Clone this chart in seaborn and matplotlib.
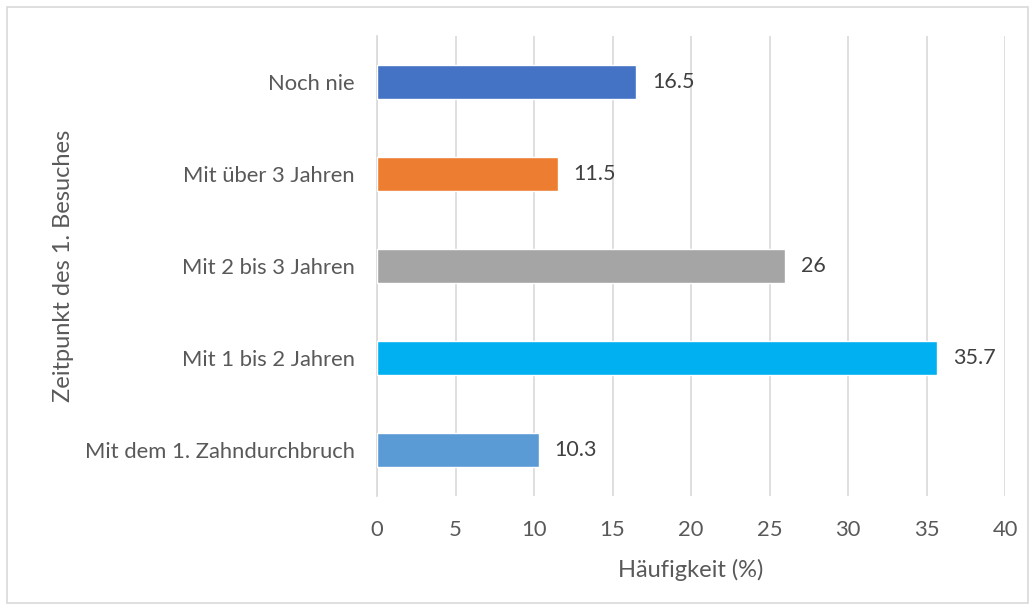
import matplotlib
matplotlib.use("Agg")
import matplotlib.pyplot as plt
import seaborn as sns
import pandas as pd
from matplotlib.patches import Rectangle

categories = ["Noch nie", "Mit über 3 Jahren", "Mit 2 bis 3 Jahren",
              "Mit 1 bis 2 Jahren", "Mit dem 1. Zahndurchbruch"]
values = [16.5, 11.5, 26, 35.7, 10.3]
value_labels = ["16.5", "11.5", "26", "35.7", "10.3"]
colors = ["#4472C4", "#ED7D31", "#A5A5A5", "#00B0F0", "#5B9BD5"]
xticks = [0, 5, 10, 15, 20, 25, 30, 35, 40]

sns.set_theme(style="white")
plt.rcParams['font.family'] = ['Lato', 'DejaVu Sans']

df = pd.DataFrame({"cat": categories, "val": values})

fig = plt.figure(figsize=(10.35, 6.10), dpi=100)
ax = fig.add_axes([377/1035, 1-496/610, 628/1035, 460/610])

sns.barplot(data=df, y="cat", x="val", hue="cat", palette=colors,
            order=categories, hue_order=categories, legend=False,
            width=0.36, saturation=1, ax=ax, zorder=3)

ax.set_xlim(0, 40)
ax.set_xticks(xticks)
ax.set_xticklabels([str(t) for t in xticks])
ax.xaxis.grid(True, color="#D9D9D9", linewidth=1.2, zorder=0)
ax.set_axisbelow(True)
for s in ["top", "right", "bottom"]:
    ax.spines[s].set_visible(False)
ax.spines["left"].set_color("#D9D9D9")
ax.spines["left"].set_linewidth(1.2)
ax.tick_params(axis="both", length=0, labelsize=15.8, colors="#595959")
ax.tick_params(axis="y", pad=16)
ax.tick_params(axis="x", pad=17)

ax.set_xlabel("Häufigkeit (%)", fontsize=17, color="#595959", labelpad=14)
ax.set_ylabel("Zeitpunkt des 1. Besuches", fontsize=17, color="#595959", labelpad=8)

for i, (v, lab) in enumerate(zip(values, value_labels)):
    ax.annotate(lab, xy=(v, i), xytext=(11.5, 0), textcoords="offset points",
                ha="left", va="center", fontsize=15.5, color="#404040")

fig.patches.append(Rectangle((7/1035, 7/610), 1021/1035, 596/610,
                             transform=fig.transFigure, fill=False,
                             edgecolor="#D9D9D9", linewidth=1.2))

fig.savefig("out.png", dpi=100, facecolor="white")
